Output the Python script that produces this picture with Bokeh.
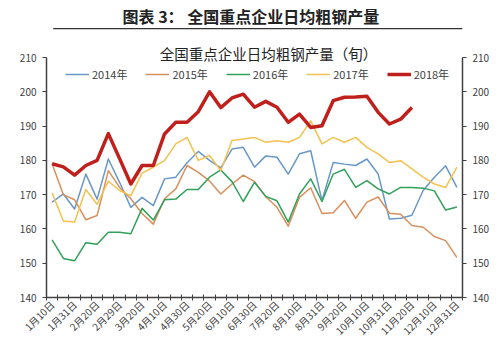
import math
from bokeh.plotting import figure
from bokeh.layouts import column
from bokeh.models import (LinearAxis, FixedTicker, Range1d, Legend, LegendItem,
                          Label, BoxAnnotation)
from bokeh.embed import file_html
from bokeh.resources import INLINE

categories = ["1月10日", "1月20日", "1月31日", "2月10日", "2月20日", "2月28日", "2月29日",
              "3月10日", "3月20日", "3月31日", "4月10日", "4月20日", "4月30日", "5月10日",
              "5月20日", "5月31日", "6月10日", "6月20日", "6月30日", "7月10日", "7月20日",
              "7月31日", "8月10日", "8月20日", "8月31日", "9月10日", "9月20日", "9月30日",
              "10月10日", "10月20日", "10月31日", "11月10日", "11月20日", "11月30日",
              "12月10日", "12月20日", "12月31日"]

s2014 = [167.8, 170.2, 165.8, 176.0, 168.7, 180.4, 173.6, 166.3, 169.2, 166.8, 174.6, 175.1,
         179.3, 182.6, 180.0, 177.8, 183.3, 183.8, 178.0, 181.3, 180.9, 176.0, 181.9, 182.8,
         168.2, 179.4, 178.9, 178.5, 180.4, 176.0, 162.9, 163.1, 164.0, 171.2, 175.1, 178.4,
         172.1]
s2015 = [179.0, 170.0, 168.5, 162.7, 163.9, 177.0, 172.1, 168.8, 164.5, 161.4, 168.8, 171.7,
         178.5, 176.5, 174.0, 170.2, 173.1, 175.7, 173.8, 169.4, 166.3, 160.8, 169.2, 172.0,
         164.5, 164.7, 168.3, 163.1, 167.8, 169.3, 164.6, 164.3, 161.0, 160.5, 157.8, 156.6,
         151.7]
s2016 = [156.8, 151.4, 150.7, 156.0, 155.5, 159.0, 159.0, 158.6, 166.0, 162.6, 168.5, 168.7,
         171.5, 171.5, 175.1, 177.2, 173.8, 168.0, 173.6, 169.5, 168.2, 162.0, 170.2, 174.6,
         168.0, 176.0, 177.4, 172.1, 174.1, 171.7, 170.2, 172.1, 172.1, 171.9, 171.1, 165.5,
         166.4]
s2017 = [170.5, 162.3, 162.0, 171.5, 167.2, 173.9, 171.2, 169.7, 176.3, 178.0, 179.9, 184.8,
         186.7, 180.0, 181.4, 177.0, 185.8, 186.2, 186.7, 185.3, 185.7, 185.3, 186.7, 191.5,
         184.8, 186.7, 185.3, 186.7, 183.8, 181.9, 179.4, 179.9, 177.5, 175.1, 173.1, 172.1,
         178.0]
s2018 = [179.0, 178.1, 175.7, 178.5, 180.0, 187.8, 180.5, 173.1, 178.5, 178.5, 187.7, 191.1,
         191.1, 194.2, 200.0, 195.4, 198.2, 199.3, 195.5, 197.2, 195.5, 191.1, 193.5, 189.6,
         190.1, 197.4, 198.4, 198.5, 198.7, 194.0, 190.6, 192.0, 195.4]

series_names = ["2014年", "2015年", "2016年", "2017年", "2018年"]
y_ticks = [140, 150, 160, 170, 180, 190, 200, 210]
header_text = "图表 3：   全国重点企业日均粗钢产量"
chart_title = "全国重点企业日均粗钢产量（旬）"

FONT = "Noto Sans CJK SC"
colors = ["#6A98C6", "#D98F5C", "#30A05A", "#F3C24E", "#C0201C"]
widths = [1.5, 1.5, 1.5, 1.5, 3.5]
all_series = [s2014, s2015, s2016, s2017, s2018]

# ---------- header strip ----------
h = figure(width=500, height=30, output_backend="svg", toolbar_location=None,
           x_range=Range1d(0, 500), y_range=Range1d(30, 0),
           min_border=0, min_border_left=0, min_border_right=0,
           min_border_top=0, min_border_bottom=0)
h.axis.visible = False
h.grid.visible = False
h.outline_line_color = None
h.add_layout(Label(x=250, y=15, text=header_text, text_font=FONT,
                   text_font_size="16px", text_font_style="bold", text_color="#222222",
                   text_align="center", text_baseline="middle"))
h.add_layout(BoxAnnotation(left=8, right=500, top=27.5, bottom=28.7,
                           fill_color="#333333", fill_alpha=1, line_color=None))

# ---------- main chart ----------
PX_PER_UNIT = 240 / 70.0
y_top = 210 + 27 / PX_PER_UNIT

p = figure(width=500, height=325, output_backend="svg", toolbar_location=None,
           x_range=Range1d(-0.5, len(categories) - 0.5), y_range=Range1d(140, y_top),
           min_border_left=46, min_border_right=38, min_border_top=0, min_border_bottom=58)
p.outline_line_color = None
p.xgrid.visible = False
p.ygrid.visible = False

renderers = []
for s, c, w in zip(all_series, colors, widths):
    xs = list(range(len(s)))
    r = p.line(xs, s, line_color=c, line_width=w, line_join="round")
    renderers.append(r)

# x axis
xa = p.xaxis[0]
label_idx = list(range(0, len(categories), 2))
xa.ticker = FixedTicker(ticks=label_idx,
                        minor_ticks=[i - 0.5 for i in range(len(categories) + 1)])
xa.major_label_overrides = {i: categories[i] for i in label_idx}
xa.major_label_orientation = math.pi / 4
xa.major_tick_in = 0
xa.major_tick_out = 0
xa.minor_tick_in = 3
xa.minor_tick_out = 3
xa.minor_tick_line_color = "#404040"
xa.axis_line_color = "#404040"
xa.axis_line_width = 1.5
xa.major_label_text_font = FONT
xa.major_label_text_font_size = "10px"
xa.major_label_text_color = "#404040"
xa.major_label_standoff = 2

# y axes (left and right), axis lines limited to 140-210
ya = p.yaxis[0]
ra = LinearAxis()
p.add_layout(ra, "right")
for ax in (ya, ra):
    ax.bounds = (140, 210)
    ax.ticker = FixedTicker(ticks=y_ticks)
    ax.minor_tick_line_color = None
    ax.major_tick_in = 0
    ax.major_tick_out = 4
    ax.major_tick_line_color = "#404040"
    ax.axis_line_color = "#404040"
    ax.axis_line_width = 1.5
    ax.major_label_text_font = FONT
    ax.major_label_text_font_size = "10px"
    ax.major_label_text_color = "#404040"
    ax.major_label_standoff = 6

# legend
items = [LegendItem(label=n, renderers=[r]) for n, r in zip(series_names, renderers)]
leg = Legend(items=items, orientation="horizontal", location=(19, 215),
             border_line_color=None, background_fill_alpha=0,
             label_text_font=FONT, label_text_font_size="11px", label_text_color="#404040",
             glyph_width=24, glyph_height=12, label_standoff=3, spacing=18, padding=0,
             label_height=12, margin=0)
p.add_layout(leg, "center")

# chart title inside the frame
p.add_layout(Label(x=222, y=244, x_units="screen", y_units="screen", text=chart_title,
                   text_font=FONT, text_font_size="14.5px", text_color="#222222",
                   text_align="center", text_baseline="middle"))

layout = column(h, p, spacing=0)
open("out.html", "w").write(file_html(layout, INLINE))
